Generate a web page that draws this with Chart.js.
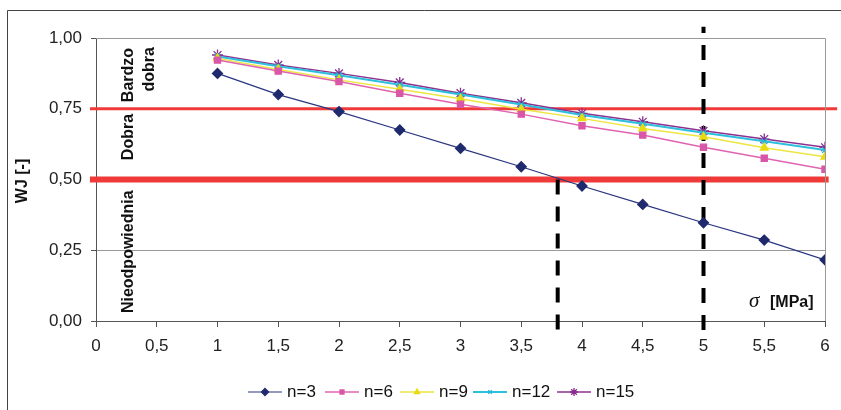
<html>
<head>
<meta charset="utf-8">
<script src="https://cdn.jsdelivr.net/npm/chart.js@4.4.1/dist/chart.umd.min.js"></script>
<style>
  body { margin: 0; background: #fff; }
  #wrap { position: relative; width: 841px; height: 410px; }
</style>
</head>
<body>
<div id="wrap"><canvas id="chart" width="841" height="410"></canvas></div>
<script>
var sigma = [1, 1.5, 2, 2.5, 3, 3.5, 4, 4.5, 5, 5.5, 6];
var n3  = [0.875, 0.80, 0.74, 0.675, 0.61, 0.545, 0.477, 0.412, 0.347, 0.286, 0.216];
var n6  = [0.922, 0.883, 0.846, 0.805, 0.766, 0.731, 0.69, 0.657, 0.614, 0.575, 0.536];
var n9  = [0.928, 0.889, 0.852, 0.819, 0.785, 0.748, 0.716, 0.68, 0.651, 0.612, 0.58];
var n12 = [0.935, 0.90, 0.868, 0.835, 0.80, 0.765, 0.728, 0.697, 0.665, 0.635, 0.604];
var n15 = [0.94, 0.905, 0.875, 0.843, 0.805, 0.771, 0.734, 0.704, 0.672, 0.643, 0.614];
var seriesNames = ['n=3', 'n=6', 'n=9', 'n=12', 'n=15'];
var limits = [0.75, 0.5];        // red class borders
var limitX = [-0.05, 6.1];
var markX = [3.8, 5];            // dashed verticals

function pts(ys) {
  return sigma.map(function(s, i) { return {x: s, y: ys[i]}; });
}
function comma(v, d) { return (d == null ? String(v) : v.toFixed(d)).replace('.', ','); }

var styles = [
  {c: '#1f2a6e', l: '#2a3580', p: 'rectRot', r: 5, w: 1.2},
  {c: '#d957a8', l: '#e063b2', p: 'rect', r: 4.3, w: 1.5},
  {c: '#e8dc10', l: '#ece640', p: 'triangle', r: 4.5, w: 1.5},
  {c: '#22b5d6', l: '#2cc0dc', p: 'crossRot', r: 4, w: 2},
  {c: '#8a2d92', l: '#8e3090', p: 'star', r: 5.5, w: 1.5}
];
var data = [n3, n6, n9, n12, n15];
var datasets = data.map(function(d, i) {
  var s = styles[i];
  return {
    label: seriesNames[i], data: pts(d), order: 1,
    borderColor: s.l, backgroundColor: s.c, borderWidth: s.w,
    pointStyle: s.p, pointRadius: s.r, pointBorderColor: s.c, pointBackgroundColor: s.c,
    pointBorderWidth: 1.3, pointHoverRadius: s.r
  };
});
datasets.push({label: '_l1', data: [{x: limitX[0], y: limits[0]}, {x: limitX[1], y: limits[0]}],
  borderColor: '#f03a3a', borderWidth: 3, pointRadius: 0, clip: false, order: 3});
datasets.push({label: '_l2', data: [{x: limitX[0], y: limits[1]}, {x: 6.03, y: limits[1]}],
  borderColor: '#f03a3a', borderWidth: 6, pointRadius: 0, clip: false, order: 3});
datasets.push({label: '_d1', data: [{x: markX[0], y: -0.03}, {x: markX[0], y: 0.5}],
  borderColor: '#000', borderWidth: 4, borderDash: [15, 12], pointRadius: 0, clip: false, order: 2});
datasets.push({label: '_d2', data: [{x: markX[1], y: -0.032}, {x: markX[1], y: 1.04}],
  borderColor: '#000', borderWidth: 4, borderDash: [15, 12], pointRadius: 0, clip: false, order: 2});

var extras = {
  id: 'extras',
  beforeDraw: function(chart) {
    var ctx = chart.ctx;
    ctx.save();
    ctx.strokeStyle = '#444';
    ctx.lineWidth = 1;
    ctx.beginPath();
    ctx.moveTo(7.5, 410); ctx.lineTo(7.5, 10.5); ctx.lineTo(841, 10.5);
    ctx.stroke();
    ctx.restore();
  },
  afterDraw: function(chart) {
    var ctx = chart.ctx, a = chart.chartArea, xs = chart.scales.x, ys = chart.scales.y;
    ctx.save();
    ctx.strokeStyle = '#999';
    ctx.lineWidth = 1;
    ctx.beginPath();
    ctx.moveTo(a.left, a.top + 0.5); ctx.lineTo(a.right + 0.5, a.top + 0.5); ctx.lineTo(a.right + 0.5, a.bottom);
    ctx.stroke();

    function vtext(t, x, y, align, font) {
      ctx.save();
      ctx.translate(x, y);
      ctx.rotate(-Math.PI / 2);
      ctx.font = font || 'bold 16px "Liberation Sans", Arial';
      ctx.fillStyle = '#111';
      ctx.textAlign = align;
      ctx.textBaseline = 'middle';
      ctx.fillText(t, 0, 0);
      ctx.restore();
    }
    vtext('WJ [-]', 23, 181, 'center');
    vtext('Bardzo', xs.getPixelForValue(0.265), ys.getPixelForValue(0.965), 'right');
    vtext('dobra', xs.getPixelForValue(0.445), ys.getPixelForValue(0.968), 'right');
    vtext('Dobra', xs.getPixelForValue(0.265), ys.getPixelForValue(0.65), 'center');
    vtext('Nieodpowiednia', xs.getPixelForValue(0.265), ys.getPixelForValue(0.028), 'left');

    var sy = ys.getPixelForValue(0.07);
    ctx.fillStyle = '#111';
    ctx.textBaseline = 'middle';
    ctx.textAlign = 'left';
    ctx.font = 'italic 21px "Liberation Serif", "Times New Roman"';
    ctx.fillText('σ', 749, sy);
    ctx.font = 'bold 16px "Liberation Sans", Arial';
    ctx.fillText('[MPa]', 770, sy + 1);

    // legend
    var lx = [248, 325, 400, 473, 557];
    var ly = 392;
    ctx.font = '17px "Liberation Sans", Arial';
    for (var i = 0; i < seriesNames.length; i++) {
      var s = styles[i];
      ctx.strokeStyle = s.l;
      ctx.lineWidth = s.w;
      ctx.beginPath();
      ctx.moveTo(lx[i], ly); ctx.lineTo(lx[i] + 34, ly);
      ctx.stroke();
      ctx.fillStyle = s.c;
      ctx.strokeStyle = s.c;
      ctx.lineWidth = 1.3;
      Chart.helpers.drawPoint(ctx, {pointStyle: s.p, radius: s.r - 1.5, rotation: 0, borderWidth: 1.3}, lx[i] + 17, ly);
      ctx.fillStyle = '#111';
      ctx.fillText(seriesNames[i], lx[i] + 39, ly);
    }
    ctx.restore();
  }
};

new Chart(document.getElementById('chart'), {
  type: 'line',
  data: {datasets: datasets},
  plugins: [extras],
  options: {
    responsive: false,
    animation: false,
    layout: {padding: {left: 0, right: 16, top: 38, bottom: 49}},
    plugins: {legend: {display: false}, tooltip: {enabled: false}},
    scales: {
      x: {
        type: 'linear', min: 0, max: 6,
        afterFit: function(s) { s.height = 40; },
        ticks: {stepSize: 0.5, padding: 9, color: '#222', font: {size: 17, family: '"Liberation Sans", Arial'},
          callback: function(v) { return comma(v); }},
        grid: {drawOnChartArea: false, tickLength: 6, tickColor: '#555'},
        border: {color: '#555'}
      },
      y: {
        min: 0, max: 1,
        afterFit: function(s) { s.width = 96; },
        ticks: {stepSize: 0.25, padding: 9, color: '#222', font: {size: 17, family: '"Liberation Sans", Arial'},
          callback: function(v) { return comma(v, 2); }},
        grid: {color: '#999', tickLength: 5, tickColor: '#555'},
        border: {color: '#555'}
      }
    }
  }
});
</script>
</body>
</html>
